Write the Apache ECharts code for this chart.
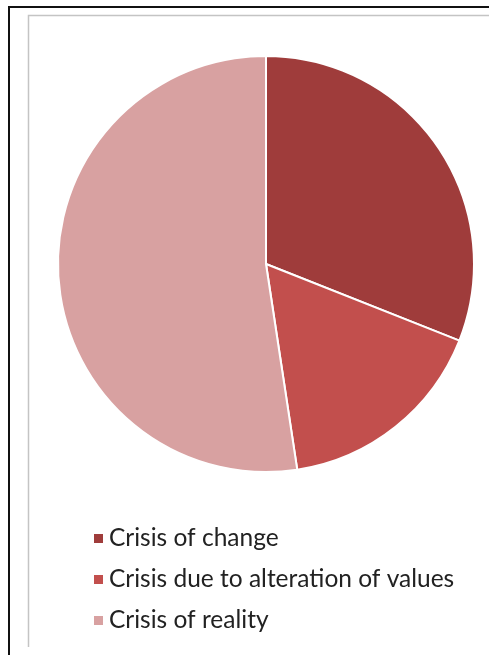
<!DOCTYPE html>
<html>
<head>
<meta charset="utf-8">
<script src="https://cdn.jsdelivr.net/npm/echarts@6/dist/echarts.min.js"></script>
<style>
  html, body { margin: 0; padding: 0; background: #fff; }
  #main { width: 489px; height: 655px; }
</style>
</head>
<body>
<div id="main"></div>
<script>
// data (share of each crisis type, %)
var categories = ['Crisis of change', 'Crisis due to alteration of values', 'Crisis of reality'];
var values = [31, 16.6, 52.4];
var colors = ['#9f3c3b', '#c24f4d', '#d8a1a1'];

var chart = echarts.init(document.getElementById('main'));

var pieData = categories.map(function (name, i) {
  return { name: name, value: values[i], itemStyle: { color: colors[i] } };
});

chart.setOption({
  animation: false,
  graphic: [
    // outer black frame
    { type: 'polyline', shape: { points: [[9, 655], [9, 7], [489, 7]] },
      style: { stroke: '#111', lineWidth: 2, fill: null } },
    // inner grey frame
    { type: 'polyline', shape: { points: [[28.5, 647], [28.5, 15.5], [489, 15.5]] },
      style: { stroke: '#c4c4c4', lineWidth: 1.5, fill: null } }
  ],
  legend: {
    orient: 'vertical',
    left: 87,
    top: 521,
    icon: 'rect',
    itemWidth: 11,
    itemHeight: 11,
    itemGap: 16,
    textStyle: { fontFamily: 'Lato', fontSize: 24.5, lineHeight: 25, color: '#222' },
    data: categories
  },
  series: [{
    type: 'pie',
    center: [266, 264],
    radius: 208,
    startAngle: 90,
    clockwise: true,
    label: { show: false },
    labelLine: { show: false },
    itemStyle: { borderColor: '#fff', borderWidth: 2 },
    emphasis: { disabled: true },
    data: pieData
  }]
});
</script>
</body>
</html>
